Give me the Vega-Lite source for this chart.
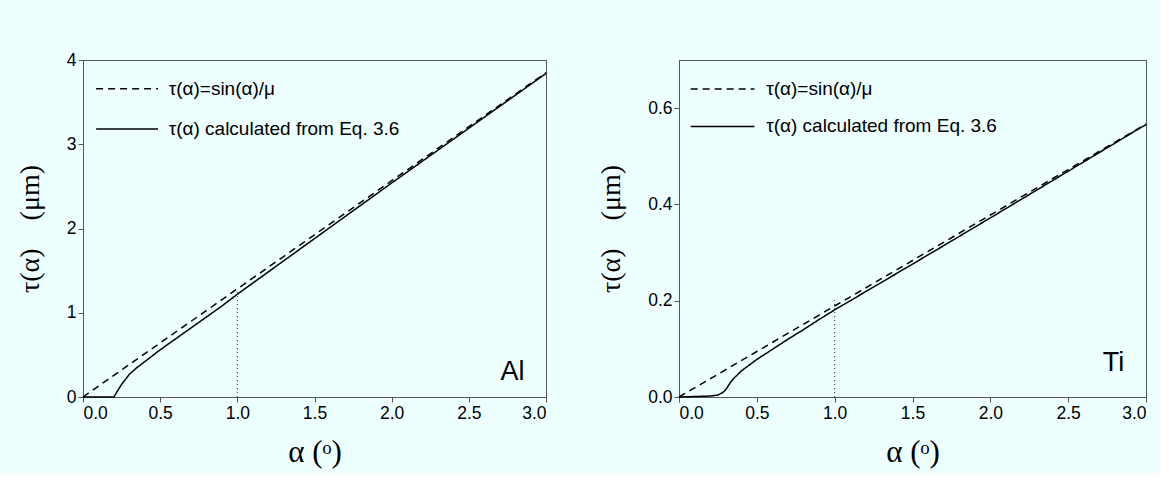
{
  "$schema": "https://vega.github.io/schema/vega-lite/v6.json",
  "background": "#eeffff",
  "padding": {"left": 15, "top": 50, "right": 10, "bottom": 5},
  "config": {
    "view": {"stroke": "#555555", "strokeWidth": 1},
    "font": "Liberation Sans",
    "axis": {
      "grid": false,
      "domainColor": "#555555",
      "tickColor": "#555555",
      "tickSize": 5,
      "labelColor": "#000000",
      "labelFontSize": 17.5,
      "labelFont": "Liberation Sans",
      "titleFont": "Liberation Serif",
      "titleFontSize": 28,
      "titleFontWeight": "normal",
      "titleColor": "#000000"
    },
    "axisX": {"titleFontSize": 31}
  },
  "datasets": {
    "al": [
      {"alpha": 0.0, "tau": 0.0, "series": "τ(α)=sin(α)/μ"},
      {"alpha": 0.5, "tau": 0.642, "series": "τ(α)=sin(α)/μ"},
      {"alpha": 1.0, "tau": 1.283, "series": "τ(α)=sin(α)/μ"},
      {"alpha": 1.5, "tau": 1.925, "series": "τ(α)=sin(α)/μ"},
      {"alpha": 2.0, "tau": 2.567, "series": "τ(α)=sin(α)/μ"},
      {"alpha": 2.5, "tau": 3.208, "series": "τ(α)=sin(α)/μ"},
      {"alpha": 3.0, "tau": 3.85, "series": "τ(α)=sin(α)/μ"},
      {"alpha": 0.0, "tau": 0.0, "series": "τ(α) calculated from Eq. 3.6"},
      {"alpha": 0.2, "tau": 0.0, "series": "τ(α) calculated from Eq. 3.6"},
      {"alpha": 0.22, "tau": 0.06, "series": "τ(α) calculated from Eq. 3.6"},
      {"alpha": 0.25, "tau": 0.15, "series": "τ(α) calculated from Eq. 3.6"},
      {"alpha": 0.28, "tau": 0.22, "series": "τ(α) calculated from Eq. 3.6"},
      {"alpha": 0.3, "tau": 0.27, "series": "τ(α) calculated from Eq. 3.6"},
      {"alpha": 0.35, "tau": 0.35, "series": "τ(α) calculated from Eq. 3.6"},
      {"alpha": 0.4, "tau": 0.42, "series": "τ(α) calculated from Eq. 3.6"},
      {"alpha": 0.5, "tau": 0.56, "series": "τ(α) calculated from Eq. 3.6"},
      {"alpha": 0.6, "tau": 0.69, "series": "τ(α) calculated from Eq. 3.6"},
      {"alpha": 0.7, "tau": 0.82, "series": "τ(α) calculated from Eq. 3.6"},
      {"alpha": 0.8, "tau": 0.95, "series": "τ(α) calculated from Eq. 3.6"},
      {"alpha": 0.9, "tau": 1.08, "series": "τ(α) calculated from Eq. 3.6"},
      {"alpha": 1.0, "tau": 1.22, "series": "τ(α) calculated from Eq. 3.6"},
      {"alpha": 1.25, "tau": 1.55, "series": "τ(α) calculated from Eq. 3.6"},
      {"alpha": 1.5, "tau": 1.88, "series": "τ(α) calculated from Eq. 3.6"},
      {"alpha": 1.75, "tau": 2.21, "series": "τ(α) calculated from Eq. 3.6"},
      {"alpha": 2.0, "tau": 2.54, "series": "τ(α) calculated from Eq. 3.6"},
      {"alpha": 2.5, "tau": 3.19, "series": "τ(α) calculated from Eq. 3.6"},
      {"alpha": 3.0, "tau": 3.84, "series": "τ(α) calculated from Eq. 3.6"}
    ],
    "ti": [
      {"alpha": 0.0, "tau": 0.0, "series": "τ(α)=sin(α)/μ"},
      {"alpha": 0.5, "tau": 0.0945, "series": "τ(α)=sin(α)/μ"},
      {"alpha": 1.0, "tau": 0.189, "series": "τ(α)=sin(α)/μ"},
      {"alpha": 1.5, "tau": 0.2835, "series": "τ(α)=sin(α)/μ"},
      {"alpha": 2.0, "tau": 0.378, "series": "τ(α)=sin(α)/μ"},
      {"alpha": 2.5, "tau": 0.4725, "series": "τ(α)=sin(α)/μ"},
      {"alpha": 3.0, "tau": 0.567, "series": "τ(α)=sin(α)/μ"},
      {"alpha": 0.0, "tau": 0.0, "series": "τ(α) calculated from Eq. 3.6"},
      {"alpha": 0.1, "tau": 0.001, "series": "τ(α) calculated from Eq. 3.6"},
      {"alpha": 0.2, "tau": 0.002, "series": "τ(α) calculated from Eq. 3.6"},
      {"alpha": 0.25, "tau": 0.004, "series": "τ(α) calculated from Eq. 3.6"},
      {"alpha": 0.28, "tau": 0.009, "series": "τ(α) calculated from Eq. 3.6"},
      {"alpha": 0.3, "tau": 0.015, "series": "τ(α) calculated from Eq. 3.6"},
      {"alpha": 0.33, "tau": 0.03, "series": "τ(α) calculated from Eq. 3.6"},
      {"alpha": 0.35, "tau": 0.038, "series": "τ(α) calculated from Eq. 3.6"},
      {"alpha": 0.4, "tau": 0.054, "series": "τ(α) calculated from Eq. 3.6"},
      {"alpha": 0.5, "tau": 0.078, "series": "τ(α) calculated from Eq. 3.6"},
      {"alpha": 0.6, "tau": 0.099, "series": "τ(α) calculated from Eq. 3.6"},
      {"alpha": 0.7, "tau": 0.12, "series": "τ(α) calculated from Eq. 3.6"},
      {"alpha": 0.8, "tau": 0.14, "series": "τ(α) calculated from Eq. 3.6"},
      {"alpha": 0.9, "tau": 0.161, "series": "τ(α) calculated from Eq. 3.6"},
      {"alpha": 1.0, "tau": 0.181, "series": "τ(α) calculated from Eq. 3.6"},
      {"alpha": 1.5, "tau": 0.276, "series": "τ(α) calculated from Eq. 3.6"},
      {"alpha": 2.0, "tau": 0.372, "series": "τ(α) calculated from Eq. 3.6"},
      {"alpha": 2.5, "tau": 0.469, "series": "τ(α) calculated from Eq. 3.6"},
      {"alpha": 3.0, "tau": 0.566, "series": "τ(α) calculated from Eq. 3.6"}
    ]
  },
  "resolve": {"scale": {"strokeDash": "independent"}},
  "spacing": 47,
  "hconcat": [
    {
      "width": 463,
      "height": 337,
      "layer": [
        {
          "data": {"name": "al"},
          "mark": {"type": "line", "color": "#000000", "strokeWidth": 1.5},
          "encoding": {
            "x": {"field": "alpha", "type": "quantitative", "scale": {"domain": [0, 3], "nice": false},
                  "axis": {"values": [0, 0.5, 1, 1.5, 2, 2.5, 3], "format": ".1f", "title": "α (ᵒ)", "titlePadding": 16}},
            "y": {"field": "tau", "type": "quantitative", "scale": {"domain": [0, 4], "nice": false},
                  "axis": {"values": [0, 1, 2, 3, 4], "format": "d", "title": "τ(α)\u00a0\u00a0\u00a0\u00a0(μm)", "titlePadding": 22}},
            "strokeDash": {"field": "series", "type": "nominal", "legend": null,
                           "scale": {"domain": ["τ(α)=sin(α)/μ", "τ(α) calculated from Eq. 3.6"], "range": [[7, 5], [1, 0]]}}
          }
        },
        {
          "data": {"values": [{}]},
          "mark": {"type": "rule", "color": "#000000", "strokeDash": [7, 5], "strokeWidth": 1.5},
          "encoding": {"x": {"datum": 0.085}, "x2": {"datum": 0.486}, "y": {"datum": 3.66}}
        },
        {
          "data": {"values": [{}]},
          "mark": {"type": "rule", "color": "#000000", "strokeWidth": 1.5},
          "encoding": {"x": {"datum": 0.085}, "x2": {"datum": 0.486}, "y": {"datum": 3.18}}
        },
        {
          "data": {"values": [{}]},
          "mark": {"type": "text", "fontSize": 19, "align": "left", "baseline": "middle", "font": "Liberation Sans", "color": "#000000"},
          "encoding": {"x": {"datum": 0.555}, "y": {"datum": 3.66}, "text": {"value": "τ(α)=sin(α)/μ"}}
        },
        {
          "data": {"values": [{}]},
          "mark": {"type": "text", "fontSize": 19, "align": "left", "baseline": "middle", "font": "Liberation Sans", "color": "#000000"},
          "encoding": {"x": {"datum": 0.555}, "y": {"datum": 3.18}, "text": {"value": "τ(α) calculated from Eq. 3.6"}}
        },
        {
          "data": {"values": [{}]},
          "mark": {"type": "rule", "color": "#333333", "strokeDash": [1, 3], "strokeWidth": 1},
          "encoding": {"x": {"datum": 1}, "y": {"datum": 0}, "y2": {"datum": 1.25}}
        },
        {
          "data": {"values": [{}]},
          "mark": {"type": "text", "fontSize": 27, "align": "right", "baseline": "middle", "font": "Liberation Sans", "color": "#000000"},
          "encoding": {"x": {"datum": 2.86}, "y": {"datum": 0.3}, "text": {"value": "Al"}}
        }
      ]
    },
    {
      "width": 467,
      "height": 337,
      "layer": [
        {
          "data": {"name": "ti"},
          "mark": {"type": "line", "color": "#000000", "strokeWidth": 1.5},
          "encoding": {
            "x": {"field": "alpha", "type": "quantitative", "scale": {"domain": [0, 3], "nice": false},
                  "axis": {"values": [0, 0.5, 1, 1.5, 2, 2.5, 3], "format": ".1f", "title": "α (ᵒ)", "titlePadding": 16}},
            "y": {"field": "tau", "type": "quantitative", "scale": {"domain": [0, 0.7], "nice": false},
                  "axis": {"values": [0, 0.2, 0.4, 0.6], "format": ".1f", "title": "τ(α)\u00a0\u00a0\u00a0\u00a0(μm)", "titlePadding": 22}},
            "strokeDash": {"field": "series", "type": "nominal", "legend": null,
                           "scale": {"domain": ["τ(α)=sin(α)/μ", "τ(α) calculated from Eq. 3.6"], "range": [[7, 5], [1, 0]]}}
          }
        },
        {
          "data": {"values": [{}]},
          "mark": {"type": "rule", "color": "#000000", "strokeDash": [7, 5], "strokeWidth": 1.5},
          "encoding": {"x": {"datum": 0.075}, "x2": {"datum": 0.485}, "y": {"datum": 0.64}}
        },
        {
          "data": {"values": [{}]},
          "mark": {"type": "rule", "color": "#000000", "strokeWidth": 1.5},
          "encoding": {"x": {"datum": 0.075}, "x2": {"datum": 0.485}, "y": {"datum": 0.562}}
        },
        {
          "data": {"values": [{}]},
          "mark": {"type": "text", "fontSize": 19, "align": "left", "baseline": "middle", "font": "Liberation Sans", "color": "#000000"},
          "encoding": {"x": {"datum": 0.56}, "y": {"datum": 0.64}, "text": {"value": "τ(α)=sin(α)/μ"}}
        },
        {
          "data": {"values": [{}]},
          "mark": {"type": "text", "fontSize": 19, "align": "left", "baseline": "middle", "font": "Liberation Sans", "color": "#000000"},
          "encoding": {"x": {"datum": 0.56}, "y": {"datum": 0.562}, "text": {"value": "τ(α) calculated from Eq. 3.6"}}
        },
        {
          "data": {"values": [{}]},
          "mark": {"type": "rule", "color": "#333333", "strokeDash": [1, 3], "strokeWidth": 1},
          "encoding": {"x": {"datum": 1}, "y": {"datum": 0}, "y2": {"datum": 0.206}}
        },
        {
          "data": {"values": [{}]},
          "mark": {"type": "text", "fontSize": 27, "align": "right", "baseline": "middle", "font": "Liberation Sans", "color": "#000000"},
          "encoding": {"x": {"datum": 2.86}, "y": {"datum": 0.07}, "text": {"value": "Ti"}}
        }
      ]
    }
  ]
}
